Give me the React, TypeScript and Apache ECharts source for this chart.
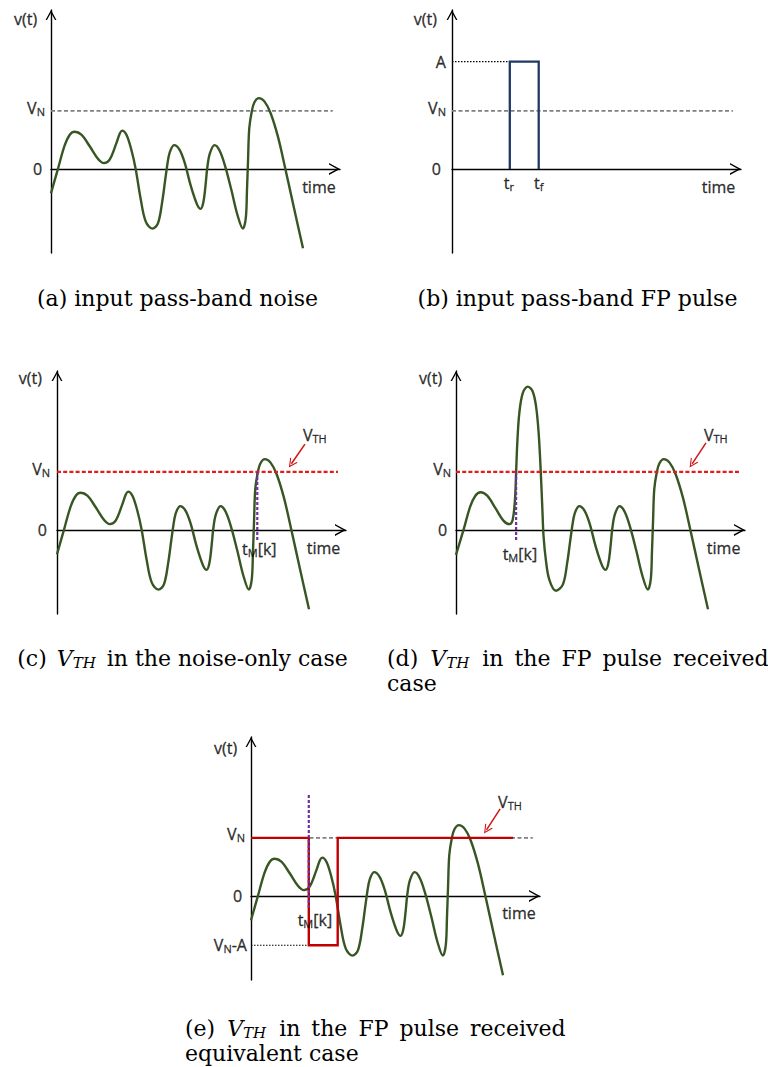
import React, { useEffect, useRef } from "react";
import * as echarts from "echarts";

// ---------------- data (time axis 0..10, voltage in units of V_N) ----------------
// band-limited noise (a), (c), (e)
const noiseTime = [0, 0.24, 0.47, 0.65, 0.82, 1.05, 1.34, 1.63, 1.83, 2.03, 2.26, 2.38, 2.46, 2.61, 2.78, 2.93, 3.1, 3.28, 3.51, 3.7, 3.85, 3.96, 4.07, 4.15, 4.26, 4.45, 4.63, 4.83, 5.06, 5.18, 5.27, 5.34, 5.41, 5.5, 5.66, 5.84, 6.03, 6.24, 6.45, 6.64, 6.74, 6.78, 6.82, 6.86, 6.95, 7.04, 7.19, 7.39, 7.6, 7.85, 8.11, 8.41, 8.72];
const noiseVolt = [-0.42, 0, 0.4, 0.59, 0.64, 0.59, 0.39, 0.17, 0.1, 0.16, 0.44, 0.61, 0.66, 0.59, 0.33, 0, -0.51, -0.91, -1.03, -0.94, -0.56, -0.16, 0.21, 0.34, 0.41, 0.33, 0.1, -0.28, -0.62, -0.69, -0.58, -0.32, 0.03, 0.27, 0.41, 0.31, 0.04, -0.36, -0.79, -1.03, -0.85, -0.39, 0.18, 0.7, 1.0, 1.15, 1.22, 1.16, 0.96, 0.56, 0, -0.68, -1.37];

// noise + received FP pulse
const fpTime = [0, 0.26, 0.49, 0.67, 0.85, 1.08, 1.37, 1.64, 1.85, 1.96, 2.04, 2.08, 2.12, 2.19, 2.31, 2.48, 2.65, 2.77, 2.86, 2.93, 2.99, 3.03, 3.11, 3.23, 3.46, 3.7, 3.85, 3.96, 4.07, 4.15, 4.26, 4.45, 4.63, 4.83, 5.06, 5.18, 5.27, 5.34, 5.41, 5.5, 5.66, 5.84, 6.03, 6.24, 6.45, 6.64, 6.74, 6.78, 6.82, 6.86, 6.95, 7.04, 7.19, 7.39, 7.6, 7.85, 8.11, 8.41, 8.72];
const fpVolt = [-0.43, 0, 0.4, 0.59, 0.65, 0.59, 0.37, 0.16, 0.1, 0.17, 0.52, 0.99, 1.49, 2.01, 2.36, 2.47, 2.39, 2.13, 1.67, 1.03, 0.34, -0.11, -0.52, -0.86, -1.05, -0.94, -0.56, -0.16, 0.21, 0.34, 0.41, 0.33, 0.1, -0.28, -0.62, -0.69, -0.58, -0.32, 0.03, 0.27, 0.41, 0.31, 0.04, -0.36, -0.79, -1.03, -0.85, -0.39, 0.18, 0.7, 1.0, 1.15, 1.22, 1.16, 0.96, 0.56, 0, -0.68, -1.37];

const V_N = 1;
const A = 1.85;
const T_R = 2.0;
const T_F = 3.0;
const T_M_NOISE = 6.93;
const T_M_FP = 2.08;
const REF_END = 9.75;
const TH_END_E = 9.07;
const MARK_TOP_E = 1.74;
const MARK_BOTTOM = -0.2;
const X_MAX = 10;
const Y_MIN = -1.45;
const Y_MAX = 2.74;

// V_TH arrows (from, to) in data units for panels c, d, e
const thArrowC = [[8.58, 1.48], [8.11, 1.14]];
const thArrowD = [[8.65, 1.5], [8.17, 1.14]];
const thArrowE = [[8.62, 1.5], [8.15, 1.14]];

// ---------------- layout / styles ----------------
const PANEL_LEFT = [51, 452, 57, 456, 251];
const PANEL_TOP = [10, 10, 371, 371, 737];
const PANEL_W = 289;
const PANEL_H = 243;

const GREEN = "#375623";
const GREY = "#808080";
const RED_DASH = "#e31b1b";
const RED_STEP = "#c00000";
const PURPLE = "#7030a0";
const NAVY = "#1f3864";
const SANS = "Open Sans";
const SERIF = "DejaVu Serif";
const SMOOTH = 0.35;

const CHEVRON = "path://M0,110L60,0L120,110L104,110L60,29.3L16,110Z";

type Lab = { text: string; x: number; y: number; align: "left" | "right" | "center" };

const labelsA: Lab[] = [
  { text: "{m|v(t)}", x: -0.48, y: 2.59, align: "right" },
  { text: "{m|V}{s|N}", x: -0.21, y: 1.05, align: "right" },
  { text: "{m|0}", x: -0.31, y: 0, align: "right" },
  { text: "{m|time}", x: 9.27, y: -0.31, align: "center" },
];
const labelsB: Lab[] = [
  { text: "{m|v(t)}", x: -0.52, y: 2.59, align: "right" },
  { text: "{m|A}", x: -0.21, y: A, align: "right" },
  { text: "{m|V}{s|N}", x: -0.21, y: 1.05, align: "right" },
  { text: "{m|0}", x: -0.38, y: 0, align: "right" },
  { text: "{m|t}{s|r}", x: T_R - 0.03, y: -0.24, align: "center" },
  { text: "{m|t}{s|f}", x: T_F, y: -0.24, align: "center" },
  { text: "{m|time}", x: 9.22, y: -0.31, align: "center" },
];
const labelsC: Lab[] = [
  { text: "{m|v(t)}", x: -0.52, y: 2.62, align: "right" },
  { text: "{m|V}{s|N}", x: -0.24, y: 1.05, align: "right" },
  { text: "{m|0}", x: -0.35, y: 0, align: "right" },
  { text: "{m|time}", x: 9.22, y: -0.31, align: "center" },
  { text: "{m|t}{s|M}{m|[k]}", x: 7.0, y: -0.33, align: "center" },
  { text: "{m|V}{s|TH}", x: 8.51, y: 1.63, align: "left" },
];
const labelsD: Lab[] = [
  { text: "{m|v(t)}", x: -0.48, y: 2.62, align: "right" },
  { text: "{m|V}{s|N}", x: -0.17, y: 1.05, align: "right" },
  { text: "{m|0}", x: -0.31, y: 0, align: "right" },
  { text: "{m|time}", x: 9.26, y: -0.31, align: "center" },
  { text: "{m|t}{s|M}{m|[k]}", x: 2.21, y: -0.41, align: "center" },
  { text: "{m|V}{s|TH}", x: 8.58, y: 1.63, align: "left" },
];
const labelsE: Lab[] = [
  { text: "{m|v(t)}", x: -0.48, y: 2.55, align: "right" },
  { text: "{m|V}{s|N}", x: -0.21, y: 1.07, align: "right" },
  { text: "{m|0}", x: -0.31, y: 0, align: "right" },
  { text: "{m|V}{s|N}{m|-A}", x: -0.14, y: V_N - A, align: "right" },
  { text: "{m|t}{s|M}{m|[k]}", x: 2.21, y: -0.41, align: "center" },
  { text: "{m|time}", x: 9.27, y: -0.29, align: "center" },
  { text: "{m|V}{s|TH}", x: 8.55, y: 1.62, align: "left" },
];

const captions = [
  { text: "{t|(a) input pass-band noise}", x: 177.5, y: 298, align: "center", va: "middle" },
  { text: "{t|(b) input pass-band FP pulse}", x: 577.5, y: 298, align: "center", va: "middle" },
  { text: "{t|(c)}{vc|V}{sc|TH}{t|in the noise-only case}", x: 182.5, y: 658, align: "center", va: "middle" },
  { text: "{t|(d)}{vj|V}{sj|TH}{t|in}{w|the}{w|FP}{w|pulse}{w|received}\n{t|case}", x: 387, y: 645.5, align: "left", va: "top" },
  { text: "{t|(e)}{vj|V}{sj|TH}{t|in}{w|the}{w|FP}{w|pulse}{w|received}\n{t|equivalent case}", x: 185, y: 1015.5, align: "left", va: "top" },
];

const RICH_SANS = {
  m: { fontFamily: SANS, fontSize: 16, lineHeight: 18, color: "#000", textBorderColor: "#000", textBorderWidth: 0.35 },
  s: { fontFamily: SANS, fontSize: 11, lineHeight: 11, verticalAlign: "bottom", color: "#000", textBorderColor: "#000", textBorderWidth: 0.3 },
};

const serifMain = { fontFamily: SERIF, fontSize: 22, lineHeight: 25, fill: "#000" };
const serifV = { ...serifMain, fontStyle: "italic" };
const serifSub = { fontFamily: SERIF, fontStyle: "italic", fontSize: 15, lineHeight: 19, verticalAlign: "bottom", fill: "#000" };
const RICH_SERIF = {
  t: serifMain,
  w: { ...serifMain, padding: [0, 0, 0, 11] },
  vc: { ...serifV, padding: [0, 0, 0, 10] },
  sc: { ...serifSub, padding: [0, 11, 0, 0] },
  vj: { ...serifV, padding: [0, 0, 0, 12] },
  sj: { ...serifSub, padding: [0, 13, 0, 0] },
};

const pairs = (t: number[], v: number[]) => t.map((x, i) => [x, v[i]]);

function lineSeries(idx: number, data: number[][], color: string, width: number, type: any, z: number, smooth: any = false) {
  return {
    type: "line",
    xAxisIndex: idx,
    yAxisIndex: idx,
    data,
    smooth,
    symbol: "none",
    showSymbol: false,
    silent: true,
    z,
    lineStyle: { color, width, type, cap: "butt", join: "miter" },
  };
}

function arrowSeries(idx: number, coords: number[][]) {
  return {
    type: "lines",
    coordinateSystem: "cartesian2d",
    xAxisIndex: idx,
    yAxisIndex: idx,
    silent: true,
    z: 6,
    symbol: ["none", CHEVRON],
    symbolSize: [10, 9],
    effect: { show: false },
    lineStyle: { color: "#d01414", width: 1.5, opacity: 1, curveness: 0 },
    data: [{ coords }],
  };
}

function labelSeries(idx: number, labels: Lab[]) {
  return {
    type: "scatter",
    xAxisIndex: idx,
    yAxisIndex: idx,
    silent: true,
    clip: false,
    z: 10,
    symbolSize: 1,
    itemStyle: { color: "rgba(0,0,0,0)" },
    data: labels.map((l) => ({
      value: [l.x, l.y],
      label: {
        show: true,
        formatter: l.text,
        position: [0.5, 0.5],
        align: l.align,
        verticalAlign: "middle",
        color: "#000",
        rich: RICH_SANS,
      },
    })),
  };
}

function buildOption() {
  const grids = PANEL_LEFT.map((left, i) => ({ left, top: PANEL_TOP[i], width: PANEL_W, height: PANEL_H, containLabel: false }));
  const axisCommon = {
    axisTick: { show: false },
    axisLabel: { show: false },
    splitLine: { show: false },
  };
  const xAxis = grids.map((_, i) => ({
    type: "value",
    gridIndex: i,
    min: 0,
    max: X_MAX,
    ...axisCommon,
    axisLine: {
      show: true,
      onZero: true,
      symbol: ["none", CHEVRON],
      symbolSize: [12, 11],
      symbolOffset: [0, -5.5],
      lineStyle: { color: "#000", width: 1.4 },
    },
  }));
  const yAxis = grids.map((_, i) => ({
    type: "value",
    gridIndex: i,
    min: Y_MIN,
    max: Y_MAX,
    ...axisCommon,
    axisLine: {
      show: true,
      onZero: true,
      symbol: ["none", CHEVRON],
      symbolSize: [12, 10],
      symbolOffset: [0, -5],
      lineStyle: { color: "#000", width: 1.4 },
    },
  }));

  const noise = pairs(noiseTime, noiseVolt);
  const fp = pairs(fpTime, fpVolt);

  const series: any[] = [
    // (a)
    lineSeries(0, [[0, V_N], [REF_END, V_N]], GREY, 1.8, [4, 2.5], 1),
    lineSeries(0, noise, GREEN, 2.4, "solid", 2, SMOOTH),
    labelSeries(0, labelsA),
    // (b)
    lineSeries(1, [[0, V_N], [REF_END - 0.03, V_N]], GREY, 1.8, [4, 2.5], 1),
    lineSeries(1, [[0, A], [T_R, A]], "#000", 1.1, [1.5, 1.5], 1),
    lineSeries(1, [[T_R, 0], [T_R, A], [T_F, A], [T_F, 0]], NAVY, 2.3, "solid", 3),
    labelSeries(1, labelsB),
    // (c)
    lineSeries(2, noise, GREEN, 2.4, "solid", 2, SMOOTH),
    lineSeries(2, [[0, V_N], [REF_END - 0.03, V_N]], RED_DASH, 2.2, [4, 2.2], 3),
    lineSeries(2, [[T_M_NOISE, V_N], [T_M_NOISE, MARK_BOTTOM]], PURPLE, 2.2, [3, 2], 4),
    arrowSeries(2, thArrowC),
    labelSeries(2, labelsC),
    // (d)
    lineSeries(3, fp, GREEN, 2.4, "solid", 2, SMOOTH),
    lineSeries(3, [[0, V_N], [REF_END + 0.04, V_N]], RED_DASH, 2.2, [4, 2.2], 3),
    lineSeries(3, [[T_M_FP, V_N], [T_M_FP, MARK_BOTTOM]], PURPLE, 2.2, [3, 2], 4),
    arrowSeries(3, thArrowD),
    labelSeries(3, labelsD),
    // (e)
    lineSeries(4, [[0, V_N], [REF_END, V_N]], GREY, 1.8, [4, 2.5], 1),
    lineSeries(4, [[0, V_N - A], [T_R, V_N - A]], "#000", 1.1, [1.5, 1.5], 1),
    lineSeries(4, noise, GREEN, 2.4, "solid", 2, SMOOTH),
    lineSeries(4, [[0, V_N], [T_R, V_N], [T_R, V_N - A], [T_F, V_N - A], [T_F, V_N], [TH_END_E, V_N]], RED_STEP, 2.4, "solid", 3),
    lineSeries(4, [[T_R, MARK_TOP_E], [T_R, MARK_BOTTOM]], PURPLE, 2.2, [3, 2], 4),
    arrowSeries(4, thArrowE),
    labelSeries(4, labelsE),
  ];

  const graphic = captions.map((c) => ({
    type: "text",
    x: c.x,
    y: c.y,
    silent: true,
    style: {
      text: c.text,
      rich: RICH_SERIF,
      fontFamily: SERIF,
      fontSize: 22,
      lineHeight: 25,
      fill: "#000",
      align: c.align,
      verticalAlign: c.va,
    },
  }));

  return {
    animation: false,
    backgroundColor: "#ffffff",
    grid: grids,
    xAxis,
    yAxis,
    series,
    graphic,
  };
}

export default function App() {
  const ref = useRef<HTMLDivElement>(null);
  useEffect(() => {
    if (!ref.current) return;
    const chart = echarts.init(ref.current, undefined, { renderer: "svg" });
    chart.setOption(buildOption() as any);
    return () => chart.dispose();
  }, []);
  return (
    <div
      ref={ref}
      style={{ position: "absolute", left: 0, top: 0, width: 768, height: 1067, background: "#fff" }}
    />
  );
}
